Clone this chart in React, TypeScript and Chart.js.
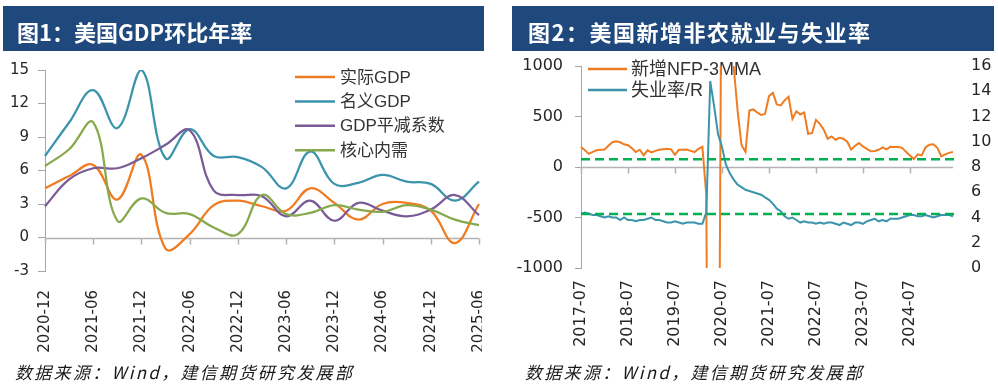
import React, { useEffect, useRef } from "react";
import { Chart, registerables } from "chart.js";

Chart.register(...registerables);

// ---------------- Chart 1: 美国GDP环比年率 ----------------
const GDP_QUARTERS = [
  "2020-12", "2021-03", "2021-06", "2021-09", "2021-12", "2022-03", "2022-06",
  "2022-09", "2022-12", "2023-03", "2023-06", "2023-09", "2023-12", "2024-03",
  "2024-06", "2024-09", "2024-12", "2025-03", "2025-06",
];
const REAL_GDP = [4.4, 5.5, 6.5, 3.4, 7.4, -1.0, 0.3, 2.9, 3.3, 2.8, 2.4, 4.4, 3.1, 1.6, 3.0, 3.1, 2.4, -0.5, 3.0];
const NOMINAL_GDP = [7.3, 10.3, 13.2, 9.8, 15.0, 7.1, 9.7, 7.3, 7.2, 6.3, 4.4, 7.7, 4.8, 4.9, 5.6, 5.0, 4.8, 3.3, 5.0];
const GDP_DEFLATOR = [2.8, 5.2, 6.2, 6.2, 7.1, 8.3, 9.6, 4.2, 3.8, 3.7, 1.9, 3.3, 1.5, 3.1, 2.4, 1.9, 2.5, 3.8, 2.0];
const CORE_DEMAND = [6.4, 7.9, 10.3, 1.5, 3.5, 2.2, 2.1, 0.9, 0.3, 3.8, 2.1, 2.2, 2.9, 2.5, 2.3, 2.9, 2.5, 1.6, 1.1];
const GDP_NAMES = ["实际GDP", "名义GDP", "GDP平减系数", "核心内需"];
const GDP_COLORS = ["#F07C22", "#3B94AC", "#7A5B97", "#87A84B"];
const GDP_Y_MIN = -3;
const GDP_Y_MAX = 15;
const GDP_Y_STEP = 3;

// ---------------- Chart 2: 美国新增非农就业与失业率 ----------------
const JOBS_START_YEAR = 2017;
const JOBS_START_MONTH = 7;
const JOBS_MONTHS: string[] = Array.from({ length: 96 }, (_, i) => {
  const m = JOBS_START_MONTH - 1 + i;
  const y = JOBS_START_YEAR + Math.floor(m / 12);
  const mm = (m % 12) + 1;
  return `${y}-${mm < 10 ? "0" + mm : mm}`;
});
const NFP_3MMA = [
  197, 165, 130, 150, 165, 170, 172, 210, 245, 255, 245, 225,
  215, 185, 148, 171, 115, 165, 145, 160, 170, 175, 180, 175,
  120, 171, 170, 172, 160, 148, 180, 200, -280, -7200, -6340, -4270,
  3130, 2720, 1340, 990, 555, 215, 150, 560, 570, 540, 515, 526,
  700, 735, 620, 610, 660, 695, 476, 552, 520, 540, 329, 335,
  467, 427, 370, 280, 302, 270, 289, 280, 250, 172, 210, 237,
  204, 180, 155, 158, 170, 195, 174, 200, 198, 197, 190, 150,
  115, 79, 125, 115, 195, 220, 225, 190, 105, 125, 140, 150,
];
const UNEMPLOYMENT = [
  4.3, 4.4, 4.3, 4.2, 4.2, 4.1,
  4.0, 4.1, 4.0, 4.0, 3.8, 4.0, 3.8, 3.8, 3.7, 3.8, 3.8, 3.9,
  4.0, 3.8, 3.8, 3.7, 3.6, 3.6, 3.7, 3.6, 3.5, 3.6, 3.6, 3.6,
  3.5, 3.5, 4.4, 14.8, 12.8, 10.6, 9.6, 8.2, 7.5, 7.0, 6.6, 6.4,
  6.2, 6.1, 6.0, 5.9, 5.8, 5.6, 5.4, 5.1, 4.7, 4.5, 4.1, 3.9,
  4.0, 3.8, 3.6, 3.7, 3.6, 3.6, 3.5, 3.6, 3.5, 3.6, 3.6, 3.5,
  3.4, 3.6, 3.5, 3.4, 3.6, 3.6, 3.5, 3.7, 3.8, 3.9, 3.7, 3.8,
  3.7, 3.9, 3.9, 3.9, 4.0, 4.1, 4.2, 4.2, 4.1, 4.1, 4.2, 4.1,
  4.0, 4.1, 4.2, 4.2, 4.2, 4.1,
];
const NFP_REF_LINE = 76;
const UNEMP_REF_LINE = 4.27;
const JOBS_NAMES = ["新增NFP-3MMA", "失业率/R"];
const JOBS_COLORS = ["#F07C22", "#3B94AC"];
const REF_COLOR = "#00B050";

const TICK_FONT = "DejaVu Sans";
const TICK_COLOR = "#262626";
const AXIS_COLOR = "#A6A6A6";
const LEGEND_FONT = '"Liberation Sans", "Noto Sans CJK SC", sans-serif';

function zeroAxisPlugin(yId: string) {
  return {
    id: "zeroAxis",
    beforeDatasetsDraw(chart: any) {
      const { ctx, chartArea, scales } = chart;
      const y = Math.round(scales[yId].getPixelForValue(0)) + 0.5;
      ctx.save();
      ctx.strokeStyle = "#B3B3B3";
      ctx.lineWidth = 1.5;
      ctx.beginPath();
      ctx.moveTo(chartArea.left, y);
      ctx.lineTo(chartArea.right, y);
      scales.x.ticks.forEach((t: any, i: number) => {
        if (!t.label) return;
        const x = Math.round(scales.x.getPixelForTick(i)) + 0.5;
        ctx.moveTo(x, y);
        ctx.lineTo(x, y + 6);
      });
      ctx.stroke();
      ctx.restore();
    },
  };
}

function GdpChart() {
  const ref = useRef<HTMLCanvasElement>(null);
  useEffect(() => {
    const canvas = ref.current!;
    const series = [REAL_GDP, NOMINAL_GDP, GDP_DEFLATOR, CORE_DEMAND];
    const legend = {
      id: "gdpLegend",
      afterDraw(chart: any) {
        const ctx = chart.ctx;
        ctx.save();
        ctx.font = `17px ${LEGEND_FONT}`;
        ctx.textBaseline = "middle";
        chart.data.datasets.forEach((ds: any, i: number) => {
          const y = 77 + i * 24.4;
          ctx.strokeStyle = ds.borderColor;
          ctx.lineWidth = 2.5;
          ctx.beginPath();
          ctx.moveTo(295, y);
          ctx.lineTo(335, y);
          ctx.stroke();
          ctx.fillStyle = "#333";
          ctx.fillText(ds.label, 340, y + 1);
        });
        ctx.restore();
      },
    };
    const chart = new Chart(canvas, {
      type: "line",
      data: {
        labels: GDP_QUARTERS,
        datasets: series.map((d, i) => ({
          label: GDP_NAMES[i],
          data: d,
          borderColor: GDP_COLORS[i],
          backgroundColor: GDP_COLORS[i],
          borderWidth: 2.25,
          pointRadius: 0,
          tension: 0.4,
          fill: false,
          order: series.length - i,
        })),
      },
      options: {
        responsive: false,
        animation: false,
        devicePixelRatio: 1,
        layout: { padding: { top: 70, left: 0, right: 3, bottom: 0 } },
        plugins: { legend: { display: false }, tooltip: { enabled: false } },
        scales: {
          x: {
            type: "category",
            grid: { display: false, drawTicks: false, tickLength: 0 },
            border: { display: false },
            ticks: {
              autoSkip: false,
              maxRotation: 90,
              minRotation: 90,
              padding: 19,
              color: TICK_COLOR,
              font: { family: TICK_FONT, size: 15 },
              callback: (_v: any, i: number) => (i % 2 === 0 ? GDP_QUARTERS[i] : ""),
            },
            afterFit: (s: any) => {
              s.height = 89;
              s.paddingLeft = 0;
              s.paddingRight = 0;
            },
          },
          y: {
            min: GDP_Y_MIN,
            max: GDP_Y_MAX,
            grid: { drawOnChartArea: false, drawTicks: true, tickLength: 7, color: AXIS_COLOR },
            border: { display: true, color: AXIS_COLOR, width: 1 },
            ticks: {
              stepSize: GDP_Y_STEP,
              padding: 9,
              color: TICK_COLOR,
              font: { family: TICK_FONT, size: 15 },
              callback: (v: any) => String(v),
            },
            afterFit: (s: any) => {
              s.width = 45;
              s.paddingTop = 0;
              s.paddingBottom = 0;
            },
          },
        },
      },
      plugins: [zeroAxisPlugin("y"), legend],
    } as any);
    return () => chart.destroy();
  }, []);
  return (
    <canvas
      ref={ref}
      width={482}
      height={360}
      style={{ position: "absolute", left: 0, top: 0, width: "482px", height: "360px" }}
    />
  );
}

function JobsChart() {
  const ref = useRef<HTMLCanvasElement>(null);
  useEffect(() => {
    const canvas = ref.current!;
    const legend = {
      id: "jobsLegend",
      beforeDatasetsDraw(chart: any) {
        const ctx = chart.ctx;
        ctx.save();
        ctx.font = `18px ${LEGEND_FONT}`;
        ctx.textBaseline = "middle";
        chart.data.datasets.forEach((ds: any, i: number) => {
          const y = 69 + i * 21;
          ctx.strokeStyle = ds.borderColor;
          ctx.lineWidth = 2.5;
          ctx.beginPath();
          ctx.moveTo(88, y);
          ctx.lineTo(127, y);
          ctx.stroke();
          ctx.fillStyle = "#333";
          ctx.fillText(ds.label, 131, y + 1);
        });
        ctx.restore();
      },
    };
    const refLines = {
      id: "refLines",
      afterDatasetsDraw(chart: any) {
        const { ctx, chartArea, scales } = chart;
        ctx.save();
        ctx.strokeStyle = REF_COLOR;
        ctx.lineWidth = 2.5;
        ctx.setLineDash([9, 5]);
        [scales.y.getPixelForValue(NFP_REF_LINE), scales.y1.getPixelForValue(UNEMP_REF_LINE)].forEach(
          (py: number) => {
            ctx.beginPath();
            ctx.moveTo(chartArea.left, py);
            ctx.lineTo(chartArea.right + 5, py);
            ctx.stroke();
          }
        );
        ctx.restore();
      },
    };
    const chart = new Chart(canvas, {
      type: "line",
      data: {
        labels: JOBS_MONTHS,
        datasets: [
          {
            label: JOBS_NAMES[0],
            data: NFP_3MMA,
            yAxisID: "y",
            borderColor: JOBS_COLORS[0],
            backgroundColor: JOBS_COLORS[0],
            borderWidth: 2,
            pointRadius: 0,
            tension: 0,
            order: 1,
          },
          {
            label: JOBS_NAMES[1],
            data: UNEMPLOYMENT,
            yAxisID: "y1",
            borderColor: JOBS_COLORS[1],
            backgroundColor: JOBS_COLORS[1],
            borderWidth: 2,
            pointRadius: 0,
            tension: 0,
            order: 0,
          },
        ],
      },
      options: {
        responsive: false,
        animation: false,
        devicePixelRatio: 1,
        layout: { padding: { top: 66, left: 0, right: 0, bottom: 0 } },
        plugins: { legend: { display: false }, tooltip: { enabled: false } },
        scales: {
          x: {
            type: "category",
            grid: { display: false, drawTicks: false, tickLength: 0 },
            border: { display: false },
            ticks: {
              autoSkip: false,
              maxRotation: 90,
              minRotation: 90,
              padding: 12,
              color: TICK_COLOR,
              font: { family: TICK_FONT, size: 16 },
              callback: (_v: any, i: number) => (i % 12 === 0 ? JOBS_MONTHS[i] : ""),
            },
            afterFit: (s: any) => {
              s.height = 92;
              s.paddingLeft = 0;
              s.paddingRight = 0;
            },
          },
          y: {
            position: "left",
            min: -1000,
            max: 1000,
            grid: { drawOnChartArea: false, drawTicks: true, tickLength: 6, color: AXIS_COLOR },
            border: { display: true, color: AXIS_COLOR, width: 1 },
            ticks: {
              stepSize: 500,
              padding: 12,
              color: TICK_COLOR,
              font: { family: TICK_FONT, size: 16 },
              callback: (v: any) => String(v),
            },
            afterFit: (s: any) => {
              s.width = 81;
              s.paddingTop = 0;
              s.paddingBottom = 0;
            },
          },
          y1: {
            position: "right",
            min: 0,
            max: 16,
            grid: { display: false, drawOnChartArea: false, drawTicks: false, tickLength: 0 },
            border: { display: false },
            ticks: {
              stepSize: 2,
              padding: 18,
              color: TICK_COLOR,
              font: { family: TICK_FONT, size: 16 },
              callback: (v: any) => String(v),
            },
            afterFit: (s: any) => {
              s.width = 45;
              s.paddingTop = 0;
              s.paddingBottom = 0;
            },
          },
        },
      },
      plugins: [zeroAxisPlugin("y"), legend, refLines],
    } as any);
    return () => chart.destroy();
  }, []);
  return (
    <canvas
      ref={ref}
      width={498}
      height={360}
      style={{ position: "absolute", left: 500, top: 0, width: "498px", height: "360px" }}
    />
  );
}

const titleBar: React.CSSProperties = {
  position: "absolute",
  top: 6,
  height: 45,
  background: "#1F497D",
};
const titleText: React.CSSProperties = {
  position: "absolute",
  top: 19,
  color: "#FFFFFF",
  fontFamily: '"Noto Sans CJK SC", sans-serif',
  fontWeight: 700,
  fontSize: 22,
  lineHeight: "24px",
  whiteSpace: "nowrap",
};
const sourceText: React.CSSProperties = {
  position: "absolute",
  top: 361,
  fontFamily: '"Noto Sans CJK SC", sans-serif',
  fontStyle: "italic",
  fontSize: 17,
  lineHeight: "22px",
  letterSpacing: "2.3px",
  color: "#1A1A1A",
  whiteSpace: "nowrap",
};

export default function App() {
  return (
    <div
      style={{
        position: "absolute",
        left: 0,
        top: 0,
        width: 998,
        height: 389,
        background: "#FFFFFF",
        overflow: "hidden",
      }}
    >
      <div style={{ ...titleBar, left: 3, width: 481 }} />
      <div style={{ ...titleBar, left: 512, width: 482 }} />
      <GdpChart />
      <JobsChart />
      <div style={{ ...titleText, left: 17 }}>图1：美国GDP环比年率</div>
      <div style={{ ...titleText, left: 528, letterSpacing: "1.5px" }}>图2：美国新增非农就业与失业率</div>
      <div style={{ ...sourceText, left: 15 }}>数据来源：Wind，建信期货研究发展部</div>
      <div style={{ ...sourceText, left: 525 }}>数据来源：Wind，建信期货研究发展部</div>
    </div>
  );
}
